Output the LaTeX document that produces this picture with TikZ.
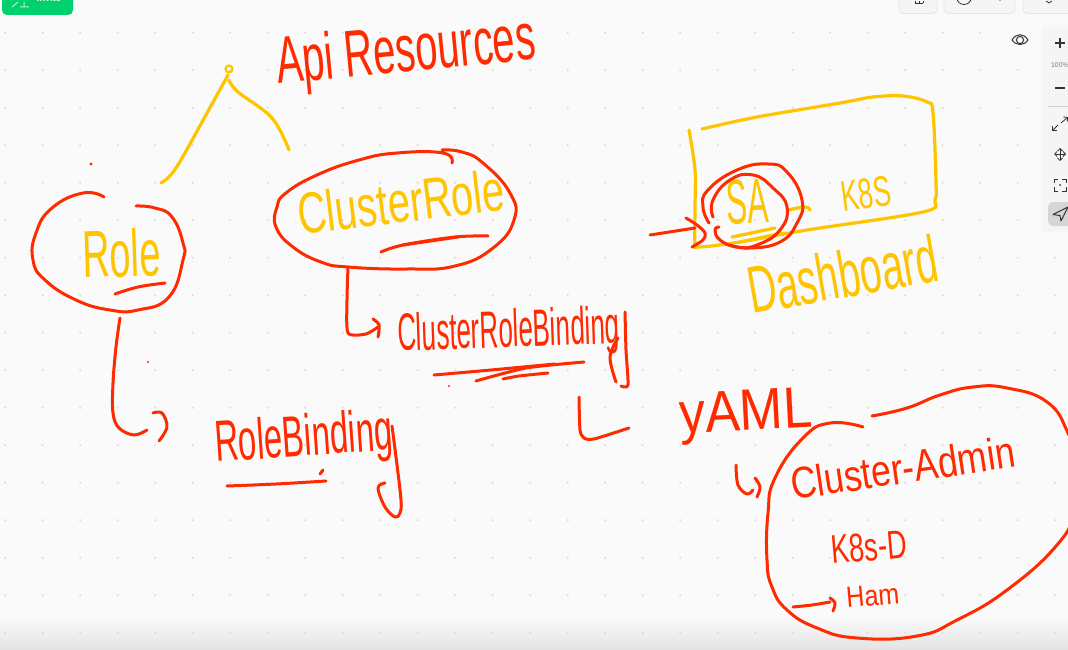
\documentclass[tikz,border=0pt]{standalone}
\usepackage{graphicx}
\usepackage{fontspec}
\setmainfont{Liberation Sans}
\usetikzlibrary{positioning,arrows.meta,calc}
\definecolor{inkred}{HTML}{FF2A00}
\definecolor{inkyellow}{HTML}{FFC400}
\definecolor{boardbg}{HTML}{FAFAFA}
\definecolor{gridgray}{HTML}{DCDCDC}
\definecolor{invitegreen}{HTML}{00D16F}
\definecolor{panelgray}{HTML}{F5F5F5}
\definecolor{icongray}{HTML}{333333}
\newcommand{\hand}[3]{\resizebox{#1pt}{#2pt}{#3}}

\begin{document}
\begin{tikzpicture}[
  x=1pt, y=-1pt,
  redink/.style={draw=inkred, line width=3pt, line cap=round, line join=round},
  yellowink/.style={draw=inkyellow, line width=3.2pt, line cap=round, line join=round},
  redword/.style={inner sep=0pt, anchor=base west, text=inkred},
  yellowword/.style={inner sep=0pt, anchor=base west, text=inkyellow},
  uibox/.style={draw=black!10, fill=panelgray, rounded corners=4pt, line width=0.7pt},
  uiicon/.style={draw=icongray, line width=0.8pt}
]
  \useasboundingbox (0,0) rectangle (1068,650);
  \clip (0,0) rectangle (1068,650);

  % --- Board ---
  \fill[boardbg] (0,0) rectangle (1068,650);
  \shade[top color=boardbg, bottom color=black!11] (0,618) rectangle (1068,650);
  \foreach \gx in {0,...,28} {
    \foreach \gy in {0,...,16} {
      \fill[gridgray] (5.2+37.5*\gx, 32.7+37.5*\gy) circle (1.2pt);
    }
  }

  % --- Invite button ---
  \fill[invitegreen, rounded corners=5pt] (2,-8) rectangle (73,15);
  \node[inner sep=0pt, anchor=base, text=white, font=\bfseries\small] (invite) at (49,2) {Invite};
  \draw[white!70!invitegreen, line width=1pt] (12,7) -- (18,2) (20,7) -- (29,7) (24,7) -- (24,2);

  % --- Top toolbar ---
  \draw[uibox] (899,-8) rectangle (937,13.5);
  \draw[uibox] (944,-8) rectangle (1015,13.5);
  \draw[uibox] (1023,-8) rectangle (1080,13.5);
  \draw[uiicon] (915,3) -- (915,1) (919,3) -- (919,1) (923,3) -- (923,1) (915,3) -- (923,3);
  \draw[uiicon] (964,-3) circle (7.5pt);
  \draw[uiicon] (1000,1) -- (1000,-2) (1046,1) -- (1049,3) -- (1052,1);

  % --- Eye button ---
  \fill[black!2, rounded corners=4pt] (1005,26) rectangle (1035,54);
  \draw[uiicon, line width=1pt] (1012,40) .. controls (1016,33) and (1024,33) .. (1028,40)
    .. controls (1024,46) and (1016,46) .. (1012,40) -- cycle;
  \draw[uiicon, line width=1pt] (1020,40) circle (3.6pt);

  % --- Zoom panel ---
  \fill[panelgray, rounded corners=5pt] (1042,25) rectangle (1085,232);
  \draw[icongray, line width=1.3pt] (1055,43) -- (1065,43) (1060,38) -- (1060,48);
  \node[inner sep=0pt, text=black!35, font=\fontsize{7}{8}\selectfont\bfseries] (zoomlevel) at (1060,65) {100\%};
  \draw[icongray, line width=1.3pt] (1055,88) -- (1065,88);
  \draw[black!20, line width=0.7pt] (1048,106.5) -- (1068,106.5);
  \draw[uiicon, -{Straight Barb[length=3pt]}] (1061,123) -- (1068,117);
  \draw[uiicon, -{Straight Barb[length=3pt]}] (1058,125) -- (1052,131);
  \draw[uiicon, {Straight Barb[length=2.5pt]}-{Straight Barb[length=2.5pt]}] (1054,154) -- (1066,154);
  \draw[uiicon, {Straight Barb[length=2.5pt]}-{Straight Barb[length=2.5pt]}] (1060,148) -- (1060,161);
  \draw[uiicon] (1054,183) -- (1054,179) -- (1058,179) (1062,179) -- (1066,179) -- (1066,183)
    (1054,187) -- (1054,191) -- (1058,191) (1062,191) -- (1066,191) -- (1066,187);
  \fill[icongray] (1060,185) circle (1pt);
  \fill[black!16, rounded corners=5pt] (1048,202) rectangle (1085,226);
  \draw[icongray, line width=1pt, line join=round] (1068,207) -- (1053,214.5) -- (1060,215.5) -- (1061,221) -- cycle;

  % --- Api Resources and its fork ---
  \node[redword, rotate=5.5] (apires) at (278,84) {\hand{260}{48}{Api Resources}};
  \draw[yellowink] plot[smooth, tension=0.6] coordinates {(161,183) (176,168) (207,113) (228,75)};
  \draw[yellowink, line width=2.2pt] (229,69) circle (3.5pt);
  \draw[yellowink] plot[smooth, tension=0.6] coordinates {(229,80) (238,92) (272,118) (289,150)};

  % --- Role ---
  \draw[redink] plot[smooth, tension=0.8] coordinates {(104,197) (83,193) (52,208) (36,233) (33,260)
    (45,280) (76,300) (110,310) (138,310) (169,297) (183,260) (183,243) (172,217) (155,208) (136,206)};
  \node[yellowword, rotate=2] (role) at (83,278) {\hand{78}{48}{Role}};
  \draw[redink] plot[smooth, tension=0.6] coordinates {(165,283) (138,287) (115,294)};
  \fill[inkred] (91,164) circle (1.6pt);

  % --- Role to RoleBinding ---
  \draw[redink] plot[smooth, tension=0.6] coordinates {(120,318) (116,347) (113,383) (113,413)
    (119,428) (134,435) (147,430)};
  \draw[redink] plot[smooth, tension=0.6] coordinates {(153,413) (162,413) (167,427) (159,441)};
  \fill[inkred] (148,362) circle (1.2pt);
  \node[redword, rotate=4] (rolebinding) at (216,462) {\hand{178}{42}{RoleBinding}};
  \draw[redink] plot[smooth, tension=0.6] coordinates {(392,426) (396,457) (401,500) (400,513)
    (395,517) (385,507) (378,488) (385,483)};
  \draw[redink] plot[smooth, tension=0.6] coordinates {(227,486) (276,484) (326,481)};
  \draw[redink] (323,470) -- (320,474);

  % --- ClusterRole ---
  \draw[redink] plot[smooth, tension=0.8] coordinates {(452,163) (443,153) (397,153) (359,160) (317,175)
    (286,193) (277,207) (276,227) (293,247) (321,262) (348,267) (407,269) (455,266) (493,248)
    (514,220) (510,193) (483,163) (462,152) (442,150)};
  \node[yellowword, rotate=7] (clusterrole) at (300,235) {\hand{208}{42}{ClusterRole}};
  \draw[redink] plot[smooth, tension=0.6] coordinates {(381,252) (403,245) (455,237) (488,236)};
  \draw[redink] (403,245) -- (458,237);

  % --- ClusterRole to ClusterRoleBinding ---
  \draw[redink] plot[smooth, tension=0.4] coordinates {(348,267) (347,300) (348,333) (366,334) (378,327)};
  \draw[redink] plot[smooth, tension=0.6] coordinates {(373,319) (379,325) (378,337)};
  \node[redword, rotate=2] (clusterbinding) at (398,351) {\hand{222}{38}{ClusterRoleBinding}};
  \draw[redink] plot[smooth, tension=0.4] coordinates {(625,312) (626,350) (628,385) (621,386)};
  \draw[redink] plot[smooth, tension=0.6] coordinates {(618,338) (610,357) (616,382)};
  \draw[redink] plot[smooth, tension=0.4] coordinates {(434,375) (491,370) (555,364)};
  \draw[redink] plot[smooth, tension=0.4] coordinates {(476,381) (526,368) (584,362)};
  \draw[redink] plot[smooth, tension=0.4] coordinates {(503,379) (519,376) (548,373)};
  \fill[inkred] (449,386) circle (1.2pt);

  % --- yAML ---
  \draw[redink] plot[smooth, tension=0.4] coordinates {(579,397) (580,430) (584,438) (594,439) (629,428)};
  \node[redword, rotate=3] (yaml) at (680,434) {\hand{133}{40}{yAML}};
  \draw[redink] plot[smooth, tension=0.6] coordinates {(736,465) (738,485) (747,494) (753,490)};
  \draw[redink] plot[smooth, tension=0.6] coordinates {(755,478) (760,487) (757,497)};

  % --- Cluster-Admin blob ---
  \draw[redink] plot[smooth, tension=0.8] coordinates {(863,427) (830,423) (803,438) (775,478) (768,513)
    (767,560) (772,587) (787,610) (817,628) (857,638) (917,636) (957,620) (1007,590) (1057,545)
    (1075,510) (1080,470) (1068,433) (1047,402) (1007,388) (973,387) (940,395) (907,408) (872,416)};
  \node[redword, rotate=8.5] (clusteradmin) at (793,500) {\hand{226}{32}{Cluster-Admin}};
  \node[redword, rotate=5] (ksd) at (832,564) {\hand{76}{28}{K8s-D}};
  \draw[redink] plot[smooth, tension=0.4] coordinates {(793,607) (812,605) (830,602)};
  \draw[redink] plot[smooth, tension=0.6] coordinates {(830,598) (835,603) (833,611)};
  \node[redword, rotate=5] (ham) at (847,608) {\hand{53}{20}{Ham}};

  % --- Dashboard box ---
  \draw[yellowink] plot[smooth, tension=0.6] coordinates {(689,130) (695,170) (695,207) (695,243) (699,247)
    (740,242) (807,230) (923,212) (935,200) (936,183) (933,113) (927,102) (903,96) (873,97) (840,103)
    (757,117) (702,129)};
  \node[yellowword, rotate=3] (sa) at (727,225) {\hand{42}{44}{SA}};
  \draw[yellowink] (732,237) -- (775,228) (740,242) -- (783,233);
  \draw[yellowink] plot[smooth, tension=0.6] coordinates {(788,210) (805,207) (810,210)};
  \node[yellowword, rotate=8] (kes) at (843,212) {\hand{50}{30}{K8S}};
  \node[yellowword, rotate=10] (dashboard) at (752,314) {\hand{192}{48}{Dashboard}};

  % --- Red rings and arrow on SA ---
  \draw[redink] plot[smooth, tension=0.8] coordinates {(709,223) (703,207) (708,190) (737,170) (768,164)
    (787,172) (802,200) (797,223) (780,242) (750,248) (730,245)};
  \draw[redink] plot[smooth, tension=0.8] coordinates {(713,217) (713,200) (730,180) (753,175) (773,188)
    (787,207) (780,230) (757,245) (737,247) (720,240) (715,230) (719,227)};
  \draw[redink] (650,235) -- (695,228);
  \draw[redink] plot[smooth, tension=0.6] coordinates {(686,218) (697,225) (705,233) (703,240) (692,247)};
\end{tikzpicture}
\end{document}
